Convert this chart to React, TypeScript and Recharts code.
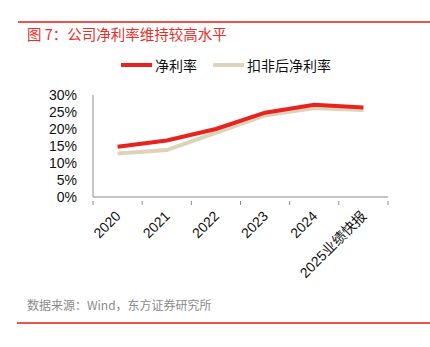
import { LineChart, Line, XAxis, YAxis, Legend } from 'recharts';

const years = ['2020', '2021', '2022', '2023', '2024', '2025业绩快报'];
const netMargin = [14.8, 16.6, 20.0, 24.8, 27.1, 26.3];
const netMarginExcl = [12.8, 13.8, 18.9, 24.0, 26.2, 25.6];
const yTicks = [0, 5, 10, 15, 20, 25, 30];

const data = years.map((year, i) => ({
  year,
  net: netMargin[i],
  excl: netMarginExcl[i],
}));

const FONT = '"Liberation Sans", Arial, "Noto Sans CJK SC", sans-serif';
const CJK = '"Noto Sans CJK SC", "Liberation Sans", sans-serif';
const RED = '#E8231E';
const BEIGE = '#DDD3BA';
const AXIS = '#8C8C8C';
const BAND = 295 / years.length;

const XTick = (props: any) => {
  const { x, y, payload, index, visibleTicksCount } = props;
  const left = x - BAND / 2;
  const right = x + BAND / 2;
  return (
    <g>
      <line x1={left} y1={y - 4} x2={left} y2={y} stroke={AXIS} />
      {index === visibleTicksCount - 1 && (
        <line x1={right} y1={y - 4} x2={right} y2={y} stroke={AXIS} />
      )}
      <text
        x={x + 4}
        y={y + 12}
        textAnchor="end"
        transform={`rotate(-45, ${x + 4}, ${y + 12})`}
        fontSize={14}
        fill="#111"
        fontFamily={FONT}
      >
        {payload.value}
      </text>
    </g>
  );
};

const LegendContent = (props: any) => {
  const { payload } = props;
  return (
    <div style={{ display: 'flex', justifyContent: 'center', paddingLeft: 22, fontFamily: CJK, fontSize: 14, color: '#111' }}>
      {payload.map((entry: any, i: number) => (
        <div key={`item-${i}`} style={{ display: 'flex', alignItems: 'center', marginLeft: i === 0 ? 0 : 16 }}>
          <span style={{ display: 'inline-block', width: 31, height: 3.5, background: entry.color, marginRight: 3 }} />
          <span>{entry.value}</span>
        </div>
      ))}
    </div>
  );
};

export default function App() {
  return (
    <div style={{ position: 'absolute', left: 0, top: 0, width: 430, height: 347, background: '#fff' }}>
      <div style={{ position: 'absolute', left: 18, top: 21, width: 412, height: 1.5, background: '#E8554F' }} />
      <div
        style={{
          position: 'absolute',
          left: 27,
          top: 24,
          fontSize: 14.5,
          lineHeight: '20px',
          color: '#E5302A',
          fontFamily: CJK,
        }}
      >
        图 7：公司净利率维持较高水平
      </div>
      <LineChart
        width={430}
        height={347}
        data={data}
        margin={{ top: 95, right: 42, bottom: 50, left: 33 }}
      >
        <Legend
          verticalAlign="middle"
          content={<LegendContent />}
          wrapperStyle={{ top: 55, left: 0, width: 430 }}
        />
        <XAxis
          dataKey="year"
          interval={0}
          height={100}
          padding={{ left: BAND / 2, right: BAND / 2 }}
          axisLine={{ stroke: AXIS }}
          tickLine={false}
          tick={<XTick />}
        />
        <YAxis
          domain={[0, 30]}
          ticks={yTicks}
          width={60}
          axisLine={{ stroke: AXIS }}
          tickLine={false}
          tickFormatter={(v: number) => `${v}%`}
          tick={{ fontSize: 14, fill: '#111', fontFamily: FONT }}
          tickMargin={10}
          interval={0}
        />
        <Line
          dataKey="excl"
          name="扣非后净利率"
          stroke={BEIGE}
          strokeWidth={4}
          dot={false}
          isAnimationActive={false}
        />
        <Line
          dataKey="net"
          name="净利率"
          stroke={RED}
          strokeWidth={4}
          dot={false}
          isAnimationActive={false}
        />
      </LineChart>
      <div
        style={{
          position: 'absolute',
          left: 27,
          top: 296,
          fontSize: 12,
          lineHeight: '18px',
          color: '#8A8A8A',
          fontFamily: CJK,
        }}
      >
        数据来源：Wind，东方证券研究所
      </div>
      <div style={{ position: 'absolute', left: 17, top: 322, width: 413, height: 1.5, background: '#E8554F' }} />
    </div>
  );
}
